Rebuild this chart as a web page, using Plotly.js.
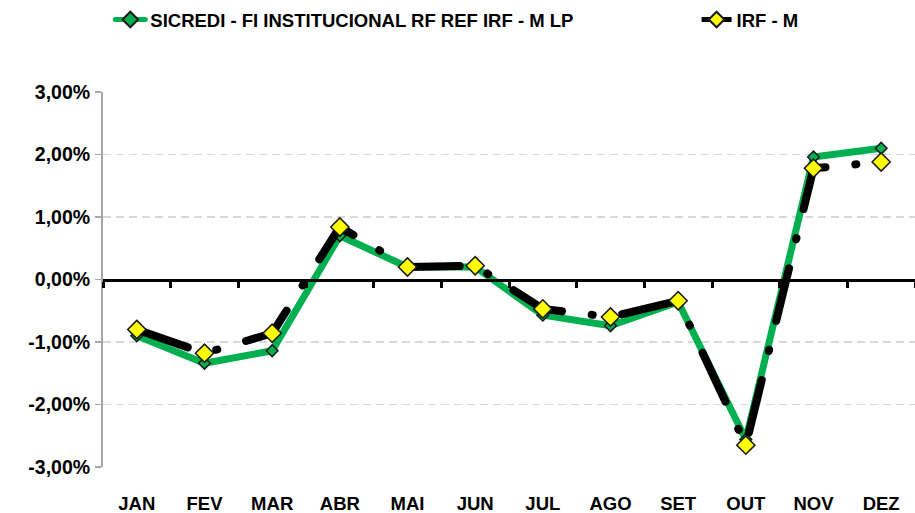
<!DOCTYPE html>
<html>
<head>
<meta charset="utf-8">
<script src="https://cdn.plot.ly/plotly-3.0.1.min.js"></script>
<style>
html, body { margin: 0; padding: 0; background: #fff; }
#chart { width: 915px; height: 513px; }
.scatterlayer .js-line, .legend .js-line { stroke-linecap: round; stroke-linejoin: round; }
</style>
</head>
<body>
<div id="chart"></div>
<script>
const months = ['JAN','FEV','MAR','ABR','MAI','JUN','JUL','AGO','SET','OUT','NOV','DEZ'];
const sicredi = [-0.90, -1.34, -1.14, 0.70, 0.20, 0.20, -0.57, -0.74, -0.36, -2.56, 1.96, 2.10];
const irfm = [-0.80, -1.18, -0.86, 0.84, 0.20, 0.22, -0.47, -0.60, -0.34, -2.65, 1.78, 1.88];
const seriesNames = ['SICREDI - FI INSTITUCIONAL RF REF IRF - M LP', 'IRF - M'];
const yTickVals = [-3, -2, -1, 0, 1, 2, 3];
const yTickText = ['-3,00%', '-2,00%', '-1,00%', '0,00%', '1,00%', '2,00%', '3,00%'];

const FONT = 'Liberation Sans, Arial, sans-serif';

const traces = [
  {
    x: months, y: sicredi, name: seriesNames[0], type: 'scatter', mode: 'lines+markers',
    line: { color: '#00b050', width: 7 },
    marker: { symbol: 'diamond', size: 9, color: '#00b050', line: { color: '#1a1a1a', width: 1.5 } },
    legend: 'legend', hoverinfo: 'x+y'
  },
  {
    x: months, y: irfm, name: seriesNames[1], type: 'scatter', mode: 'lines+markers',
    line: { color: '#000000', width: 8, dash: '54px,30px,1px,30px' },
    marker: { symbol: 'diamond', size: 14, color: '#ffff00', line: { color: '#1a1a1a', width: 1.5 } },
    legend: 'legend2', hoverinfo: 'x+y'
  },
  {
    x: months, y: months.map(() => null), xaxis: 'x2', yaxis: 'y', type: 'scatter', mode: 'lines',
    showlegend: false, hoverinfo: 'skip'
  }
];

const layout = {
  width: 915, height: 513,
  margin: { l: 103, r: 0, t: 92, b: 46 },
  paper_bgcolor: '#ffffff', plot_bgcolor: '#ffffff',
  font: { family: FONT, color: '#000000' },
  showlegend: true,
  legend: {
    orientation: 'h', x: 0.009, y: 1.192, xanchor: 'left', yanchor: 'middle',
    font: { family: FONT, size: 18.5, color: '#000', weight: 'bold' },
    bgcolor: 'rgba(0,0,0,0)', itemsizing: 'constant'
  },
  legend2: {
    orientation: 'h', x: 0.731, y: 1.192, xanchor: 'left', yanchor: 'middle',
    font: { family: FONT, size: 18.5, color: '#000', weight: 'bold' },
    bgcolor: 'rgba(0,0,0,0)', itemsizing: 'constant'
  },
  xaxis: {
    type: 'category', categoryorder: 'array', categoryarray: months,
    range: [-0.5, 11.5],
    showline: false, showgrid: false, zeroline: false,
    ticks: '', ticklabelstandoff: 23,
    tickfont: { family: FONT, size: 18.5, color: '#000', weight: 'bold' }
  },
  xaxis2: {
    type: 'category', categoryorder: 'array', categoryarray: months,
    range: [-0.5, 11.5],
    overlaying: 'x', anchor: 'free', position: 0.5, side: 'bottom',
    showline: true, linecolor: '#000', linewidth: 3,
    ticks: 'outside', tickson: 'boundaries', ticklen: 6, tickwidth: 3, tickcolor: '#000',
    showticklabels: false, showgrid: false, zeroline: false
  },
  yaxis: {
    range: [-3, 3], tickmode: 'array', tickvals: yTickVals, ticktext: yTickText,
    showline: true, linecolor: '#a6a6a6', linewidth: 2,
    ticks: 'outside', ticklen: 6, tickwidth: 1.5, tickcolor: '#a6a6a6',
    ticklabelstandoff: 1,
    showgrid: true, gridcolor: '#d9d9d9', gridwidth: 1.5, griddash: '8px,5px',
    zeroline: false,
    tickfont: { family: FONT, size: 19.5, color: '#000', weight: 'bold' }
  }
};

Plotly.newPlot('chart', traces, layout, { displayModeBar: false, staticPlot: true });
</script>
</body>
</html>
